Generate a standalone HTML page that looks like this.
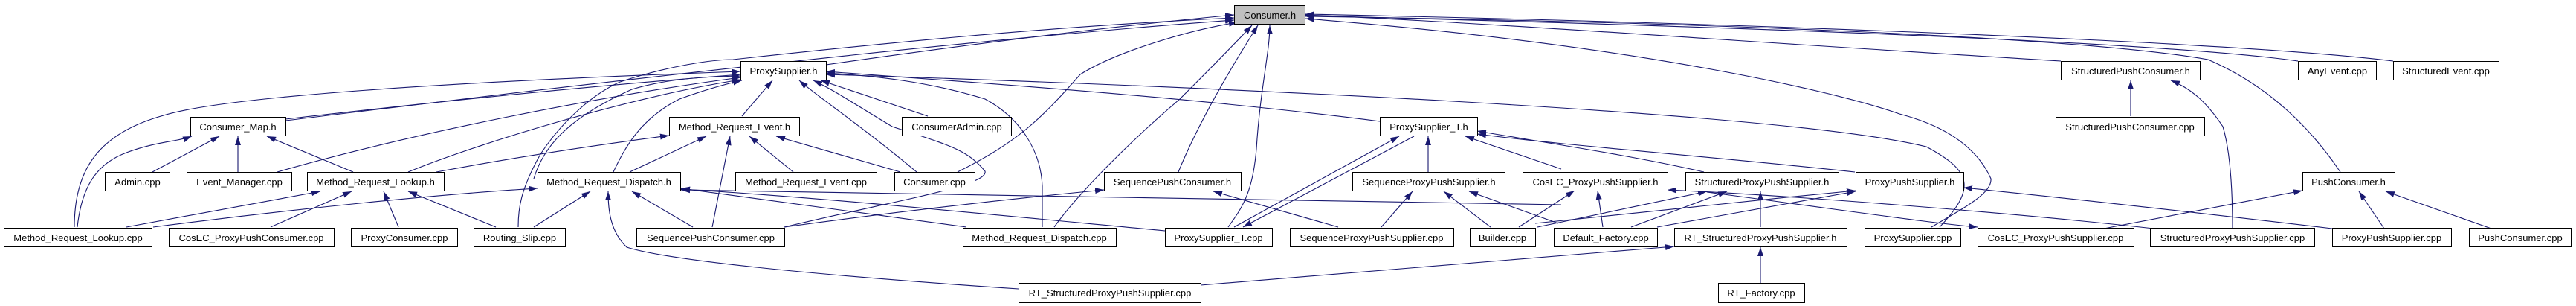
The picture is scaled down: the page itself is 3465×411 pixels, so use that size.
<!DOCTYPE html>
<html><head><meta charset="utf-8"><style>
html,body{margin:0;padding:0;background:#fff;}
svg{display:block;}
text{font-family:"Liberation Sans",sans-serif;font-size:13px;fill:#000;}
.e{fill:none;stroke:#191970;stroke-width:1.1;}
</style></head><body>
<svg width="3465" height="411" viewBox="0 0 3465 411" xmlns="http://www.w3.org/2000/svg">
<defs><marker id="a" viewBox="0 0 12 8" refX="12" refY="4" markerWidth="12" markerHeight="8" markerUnits="userSpaceOnUse" orient="auto"><path d="M0,0 L12,4 L0,8 Z" fill="#191970"/></marker></defs>
<g class="e" marker-end="url(#a)">
<!-- to Consumer.h -->
<path d="M1111,87 C1300,60 1500,35 1660,20"/>
<path d="M384,162 C500,148 1200,60 1660,27"/>
<path d="M697,305 C697,280 700,255 727,207 C758,160 800,125 834,110 C900,88 960,80 986,80 C1150,62 1400,36 1660,24"/>
<path d="M1288,231 C1370,190 1400,160 1453,100 C1500,70 1600,40 1665,30"/>
<path d="M1418,305 C1450,260 1520,190 1587,133 C1630,90 1660,60 1684,34"/>
<path d="M1585,231 C1610,170 1650,100 1692,34"/>
<path d="M1652,305 C1670,280 1685,260 1690,200 C1695,120 1708,70 1708,34"/>
<path d="M2772,82 C2400,60 2000,30 1756,20"/>
<path d="M3091,82 C2900,55 2300,35 1756,21"/>
<path d="M3219,82 C3000,55 2300,30 1756,19"/>
<path d="M3148,231 C3100,160 3040,110 2970,80 C2800,50 2300,30 1756,22"/>
<path d="M2598,305 C2640,280 2680,260 2678,240 C2660,200 2620,170 2555,153 C2470,123 2200,60 1756,25"/>
<!-- to ProxySupplier.h -->
<path d="M100,305 C100,230 130,180 220,155 C300,130 600,110 996,96"/>
<path d="M384,160 C600,135 800,115 996,100"/>
<path d="M373,231 C550,180 800,130 996,104"/>
<path d="M549,231 C650,190 850,130 996,107"/>
<path d="M825,231 C840,200 860,160 914,133 C950,120 980,112 998,108"/>
<path d="M998,156 L1039,108"/>
<path d="M1233,231 C1160,170 1100,130 1075,108"/>
<path d="M1248,156 L1104,108"/>
<path d="M1055,305 C1200,270 1330,250 1325,230 C1300,200 1276,195 1200,170 C1150,140 1120,120 1094,108"/>
<path d="M1402,305 L1402,250 C1400,200 1370,157 1325,133 C1250,110 1180,102 1111,98"/>
<path d="M1856,163 C1600,130 1300,110 1111,96"/>
<path d="M2609,305 C2658,253 2653,230 2591,197 C2400,150 1600,115 1111,100"/>
<path d="M718,240 C730,200 760,160 850,120 C900,105 950,103 996,102"/>
<!-- Consumer_Map.h -->
<path d="M104,305 C110,250 130,220 170,205 C210,190 240,190 258,183"/>
<path d="M205,231 L295,183"/>
<path d="M320,231 L320,183"/>
<path d="M475,231 L359,183"/>
<!-- Method_Request_Lookup.h -->
<path d="M170,305 L431,257"/>
<path d="M364,305 L473,257"/>
<path d="M536,305 L516,257"/>
<path d="M667,305 L549,257"/>
<!-- Method_Request_Event.h -->
<path d="M587,231 C700,210 800,195 900,182"/>
<path d="M847,231 L950,183"/>
<path d="M958,305 L982,183"/>
<path d="M1067,231 L1008,183"/>
<path d="M1211,231 L1044,183"/>
<!-- Method_Request_Dispatch.h -->
<path d="M206,305 C400,280 600,260 723,253"/>
<path d="M718,305 L794,257"/>
<path d="M932,305 L850,257"/>
<path d="M1370,388 C1100,370 900,350 843,332 C820,310 818,280 818,257"/>
<path d="M1300,305 L916,253"/>
<path d="M1567,310 C1300,285 1100,265 916,254"/>
<path d="M2100,275 C1600,268 1200,262 916,255"/>
<!-- SequencePushConsumer.h -->
<path d="M1055,305 C1200,285 1350,268 1485,255"/>
<path d="M1800,305 L1632,257"/>
<!-- ProxySupplier_T.h -->
<path d="M1660,305 L1882,183"/>
<path d="M1902,183 L1672,305"/>
<path d="M1921,231 L1921,183"/>
<path d="M2292,231 C2200,210 2100,195 1987,176"/>
<path d="M2495,231 C2300,210 2100,195 1987,180"/>
<path d="M2100,227 L1971,183"/>
<!-- SequenceProxyPushSupplier.h -->
<path d="M1858,305 L1900,257"/>
<path d="M2005,305 L1942,257"/>
<path d="M2096,300 L1976,257"/>
<!-- CosEC_ProxyPushSupplier.h -->
<path d="M2043,305 L2118,256"/>
<path d="M2156,305 L2149,256"/>
<path d="M2897,307 C2700,285 2400,262 2243,255"/>
<!-- StructuredProxyPushSupplier.h -->
<path d="M2068,305 L2296,257"/>
<path d="M2194,305 L2323,257"/>
<path d="M2368,305 L2368,257"/>
<!-- ProxyPushSupplier.h -->
<path d="M2065,300 C2200,285 2350,270 2496,256"/>
<path d="M2229,305 L2496,257"/>
<path d="M3137,307 C2950,285 2800,268 2641,252"/>
<path d="M2296,258 C2500,285 2600,300 2660,305"/>
<!-- RT -->
<path d="M1615,383 C1900,360 2100,345 2252,331"/>
<path d="M2368,380 L2368,332"/>
<!-- StructuredPushConsumer.h -->
<path d="M2866,156 L2866,108"/>
<path d="M3003,307 C3003,250 2999,200 2990,170 C2970,140 2950,120 2920,108"/>
<!-- PushConsumer.h -->
<path d="M2830,307 L3097,256"/>
<path d="M3207,307 L3173,257"/>
<path d="M3351,307 L3209,257"/>
</g>
<g fill="#fff" stroke="#000" stroke-width="1">
<rect x="1660.5" y="7.5" width="95" height="25" fill="#bfbfbf"/>
<rect x="996.5" y="82.5" width="115" height="25"/>
<rect x="2772.5" y="82.5" width="187" height="25"/>
<rect x="3091.5" y="82.5" width="105" height="25"/>
<rect x="3219.5" y="82.5" width="142" height="25"/>
<rect x="256.5" y="157.5" width="128" height="25"/>
<rect x="900.5" y="157.5" width="175" height="25"/>
<rect x="1213.5" y="157.5" width="147" height="25"/>
<rect x="1856.5" y="157.5" width="131" height="25"/>
<rect x="2765.5" y="157.5" width="200" height="25"/>
<rect x="141.5" y="231.5" width="87" height="25"/>
<rect x="251.5" y="231.5" width="141" height="25"/>
<rect x="413.5" y="231.5" width="184" height="25"/>
<rect x="723.5" y="231.5" width="192" height="25"/>
<rect x="989.5" y="231.5" width="190" height="25"/>
<rect x="1203.5" y="231.5" width="108" height="25"/>
<rect x="1485.5" y="231.5" width="184" height="25"/>
<rect x="1819.5" y="231.5" width="205" height="25"/>
<rect x="2048.5" y="231.5" width="195" height="25"/>
<rect x="2267.5" y="231.5" width="206" height="25"/>
<rect x="2496.5" y="231.5" width="145" height="25"/>
<rect x="3097.5" y="231.5" width="124" height="25"/>
<rect x="5.5" y="306.5" width="199" height="25"/>
<rect x="227.5" y="306.5" width="222" height="25"/>
<rect x="472.5" y="306.5" width="143" height="25"/>
<rect x="637.5" y="306.5" width="123" height="25"/>
<rect x="856.5" y="306.5" width="199" height="25"/>
<rect x="1295.5" y="306.5" width="206" height="25"/>
<rect x="1567.5" y="306.5" width="144" height="25"/>
<rect x="1735.5" y="306.5" width="220" height="25"/>
<rect x="1977.5" y="306.5" width="88" height="25"/>
<rect x="2090.5" y="306.5" width="139" height="25"/>
<rect x="2252.5" y="306.5" width="232" height="25"/>
<rect x="2508.5" y="306.5" width="129" height="25"/>
<rect x="2660.5" y="306.5" width="210" height="25"/>
<rect x="2892.5" y="306.5" width="221" height="25"/>
<rect x="3137.5" y="306.5" width="160" height="25"/>
<rect x="3321.5" y="306.5" width="137" height="25"/>
<rect x="1370.5" y="380.5" width="245" height="26"/>
<rect x="2311.5" y="380.5" width="116" height="26"/>
</g>
<g text-anchor="middle">
<text x="1708" y="25">Consumer.h</text>
<text x="1054" y="100">ProxySupplier.h</text>
<text x="2866" y="100">StructuredPushConsumer.h</text>
<text x="3144" y="100">AnyEvent.cpp</text>
<text x="3290" y="100">StructuredEvent.cpp</text>
<text x="320" y="175">Consumer_Map.h</text>
<text x="988" y="175">Method_Request_Event.h</text>
<text x="1287" y="175">ConsumerAdmin.cpp</text>
<text x="1922" y="175">ProxySupplier_T.h</text>
<text x="2865" y="175">StructuredPushConsumer.cpp</text>
<text x="185" y="249">Admin.cpp</text>
<text x="322" y="249">Event_Manager.cpp</text>
<text x="505" y="249">Method_Request_Lookup.h</text>
<text x="819" y="249">Method_Request_Dispatch.h</text>
<text x="1084" y="249">Method_Request_Event.cpp</text>
<text x="1257" y="249">Consumer.cpp</text>
<text x="1577" y="249">SequencePushConsumer.h</text>
<text x="1922" y="249">SequenceProxyPushSupplier.h</text>
<text x="2146" y="249">CosEC_ProxyPushSupplier.h</text>
<text x="2370" y="249">StructuredProxyPushSupplier.h</text>
<text x="2569" y="249">ProxyPushSupplier.h</text>
<text x="3159" y="249">PushConsumer.h</text>
<text x="105" y="324">Method_Request_Lookup.cpp</text>
<text x="338" y="324">CosEC_ProxyPushConsumer.cpp</text>
<text x="544" y="324">ProxyConsumer.cpp</text>
<text x="699" y="324">Routing_Slip.cpp</text>
<text x="956" y="324">SequencePushConsumer.cpp</text>
<text x="1398" y="324">Method_Request_Dispatch.cpp</text>
<text x="1639" y="324">ProxySupplier_T.cpp</text>
<text x="1845" y="324">SequenceProxyPushSupplier.cpp</text>
<text x="2021" y="324">Builder.cpp</text>
<text x="2160" y="324">Default_Factory.cpp</text>
<text x="2368" y="324">RT_StructuredProxyPushSupplier.h</text>
<text x="2573" y="324">ProxySupplier.cpp</text>
<text x="2765" y="324">CosEC_ProxyPushSupplier.cpp</text>
<text x="3003" y="324">StructuredProxyPushSupplier.cpp</text>
<text x="3217" y="324">ProxyPushSupplier.cpp</text>
<text x="3390" y="324">PushConsumer.cpp</text>
<text x="1493" y="398">RT_StructuredProxyPushSupplier.cpp</text>
<text x="2369" y="398">RT_Factory.cpp</text>
</g>
</svg>
</body></html>
